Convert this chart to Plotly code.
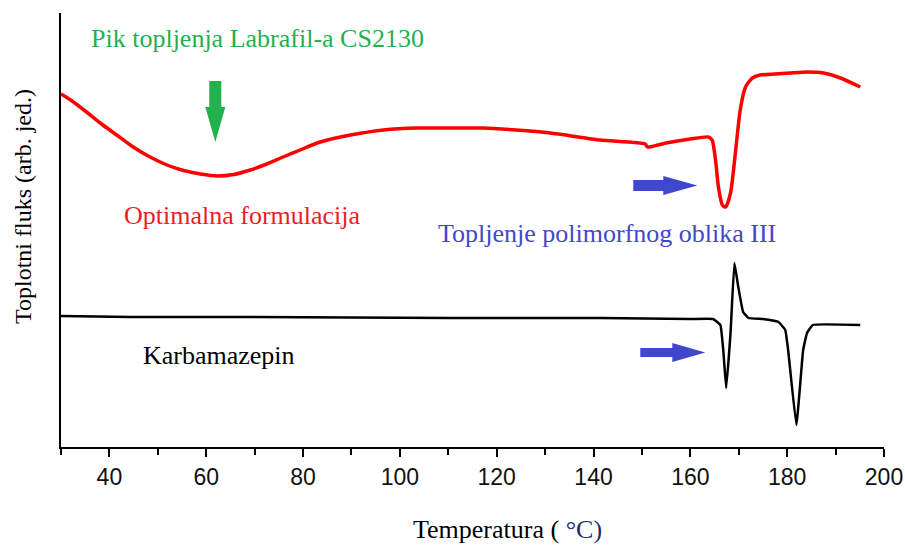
import plotly.graph_objects as go

# Temperature (°C) and heat-flux (arbitrary units) readings
red_T = [30.0, 32.0, 35.0, 38.1, 41.5, 44.9, 48.4, 51.9, 55.3, 58.8, 62.3, 65.7,
         69.1, 72.5, 75.9, 79.4, 82.9, 86.3, 89.8, 96.6,
         103.6, 110.4, 117.2, 124.0, 131.1, 141.4, 150.7, 151.1, 155.0, 160.0,
         163.7, 164.5, 165.2, 165.8, 166.6, 167.3, 168.3, 169.3, 170.3, 171.4,
         172.8, 174.4, 177.5, 180.6, 184.1, 187.5, 191.0, 195.1]
red_py = [94, 100, 111, 123, 135, 147, 157, 165, 170.5, 174, 176, 174.5,
          170, 164, 157, 150, 143, 138.5, 135, 130,
          128, 128, 128, 130, 133, 140, 144, 147, 143, 139,
          137, 140, 160, 187, 205, 207, 193, 153, 110, 87,
          78, 75, 74, 73, 72, 73, 78, 87]
red_y = [447 - v for v in red_py]

black_T = [30.0, 44.3, 69.1, 110.4, 141.4, 160.0, 164.7, 166.2, 166.8, 167.4,
           168.3, 169.1, 169.9, 170.9, 172.0, 175.1, 178.2, 179.6, 180.2, 181.9,
           183.3, 184.1, 185.3, 195.1]
black_py = [316, 317, 317, 318, 318, 319, 319, 325, 350, 388,
            333, 263, 287, 312, 318, 319, 322, 330, 350, 425,
            350, 333, 325, 325]
black_y = [447 - v for v in black_py]

x_ticks = [40, 60, 80, 100, 120, 140, 160, 180, 200]

SERIF = "Liberation Serif, Times New Roman, serif"
SANS = "Liberation Sans, Arial, sans-serif"

fig = go.Figure()
fig.add_trace(go.Scatter(x=red_T, y=red_y, mode="lines",
                         line=dict(color="#FF0000", width=3.5, shape="spline", smoothing=0.6),
                         showlegend=False))
fig.add_trace(go.Scatter(x=black_T, y=black_y, mode="lines",
                         line=dict(color="#000000", width=2.5, shape="spline", smoothing=0.3),
                         showlegend=False))


def arrow_down(xl, xr, hxl, hxr, ytop, yneck, ytip):
    xm = (hxl + hxr) / 2
    return (f"M {xl} {ytop} L {xr} {ytop} L {xr} {yneck} L {hxr} {yneck} "
            f"L {xm} {ytip} L {hxl} {yneck} L {xl} {yneck} Z")


def arrow_right(x0, xneck, xtip, yb, yt, hyb, hyt):
    ym = (hyb + hyt) / 2
    return (f"M {x0} {yb} L {xneck} {yb} L {xneck} {hyb} L {xtip} {ym} "
            f"L {xneck} {hyt} L {xneck} {yt} L {x0} {yt} Z")


shapes = [
    dict(type="path", xref="x", yref="y", line=dict(width=0),
         fillcolor="#22B14C",
         path=arrow_down(60.63, 63.11, 59.81, 63.94, 366, 340, 305)),
    dict(type="path", xref="x", yref="y", line=dict(width=0),
         fillcolor="#3F48CC",
         path=arrow_right(148.21, 154.41, 161.43, 256, 267, 252, 271)),
    dict(type="path", xref="x", yref="y", line=dict(width=0),
         fillcolor="#3F48CC",
         path=arrow_right(149.66, 156.27, 163.09, 90, 99, 85, 104)),
]

annotations = [
    dict(text="Pik topljenja Labrafil-a CS2130", x=70.5, y=409, xref="x", yref="y",
         xanchor="center", yanchor="middle",
         showarrow=False, font=dict(family=SERIF, size=26, color="#22B14C")),
    dict(text="Optimalna formulacija", x=67.4, y=232, xref="x", yref="y",
         xanchor="center", yanchor="middle",
         showarrow=False, font=dict(family=SERIF, size=26, color="#ED1C24")),
    dict(text="Topljenje polimorfnog oblika III", x=142.7, y=214, xref="x", yref="y",
         xanchor="center", yanchor="middle",
         showarrow=False, font=dict(family=SERIF, size=26, color="#3F48CC")),
    dict(text="Karbamazepin", x=62.6, y=92, xref="x", yref="y",
         xanchor="center", yanchor="middle",
         showarrow=False, font=dict(family=SERIF, size=26, color="#000000")),
    dict(text="Toplotni fluks (arb. jed.)", x=-0.0462, y=0.5553, xref="paper", yref="paper",
         xanchor="center", yanchor="middle",
         textangle=-90, showarrow=False, font=dict(family=SERIF, size=24, color="#000000")),
    dict(text="Temperatura ( <span style='color:#1F2D6B'>°C)</span>", x=0.543, y=-0.189,
         xref="paper", yref="paper", xanchor="center", yanchor="middle", showarrow=False,
         font=dict(family=SERIF, size=26, color="#000000")),
]

fig.update_layout(
    width=905, height=546,
    margin=dict(l=61, r=21, t=13, b=99, autoexpand=False),
    paper_bgcolor="white", plot_bgcolor="white",
    shapes=shapes, annotations=annotations,
    xaxis=dict(range=[30, 200], tickvals=x_ticks, ticktext=[str(v) for v in x_ticks],
               automargin=False,
               ticks="outside", ticklen=8, tickwidth=2, tickcolor="black",
               showline=True, linewidth=2, linecolor="black", showgrid=False,
               zeroline=False, tickfont=dict(family=SANS, size=23, color="#111111"),
               minor=dict(tickvals=[30, 50, 70, 90, 110, 130, 150, 170, 190],
                          ticks="outside", ticklen=6, tickwidth=2, tickcolor="black",
                          showgrid=False)),
    yaxis=dict(range=[0, 434], showline=True, linewidth=2, linecolor="black",
               automargin=False,
               showticklabels=False, ticks="", showgrid=False, zeroline=False),
)

fig.write_html("out.html", config={"displayModeBar": False},
               post_script="document.body.style.margin='0';document.body.style.overflow='hidden';")
